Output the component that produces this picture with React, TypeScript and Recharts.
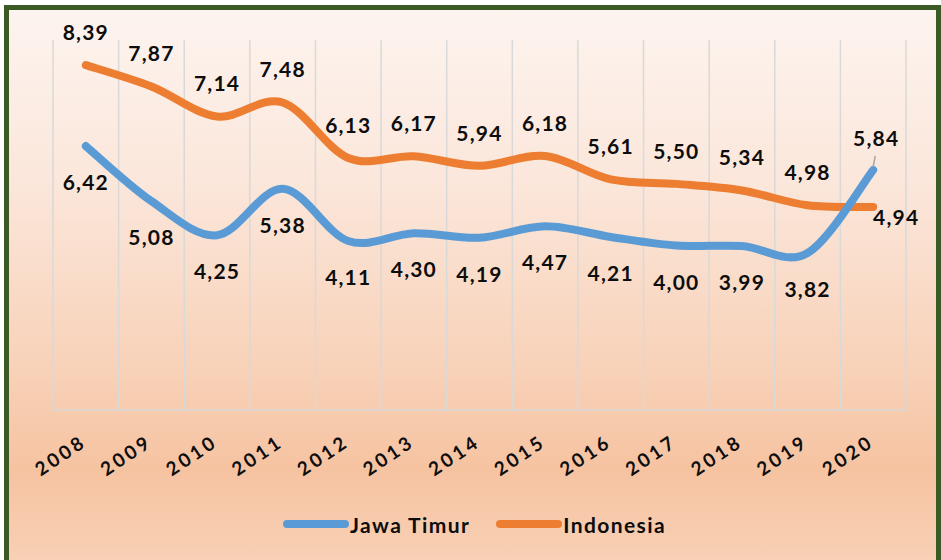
import React from 'react';
import { LineChart, Line, XAxis, YAxis, Legend, ReferenceLine, LabelList } from 'recharts';

const YEARS = ['2008', '2009', '2010', '2011', '2012', '2013', '2014', '2015', '2016', '2017', '2018', '2019', '2020'];
const JAWA_TIMUR = [6.42, 5.08, 4.25, 5.38, 4.11, 4.3, 4.19, 4.47, 4.21, 4.0, 3.99, 3.82, 5.84];
const INDONESIA = [8.39, 7.87, 7.14, 7.48, 6.13, 6.17, 5.94, 6.18, 5.61, 5.5, 5.34, 4.98, 4.94];

const BLUE = '#5B9BD5';
const ORANGE = '#ED7D31';
const FONT = "Lato, 'Open Sans', sans-serif";

const data = YEARS.map((year, i) => ({
  idx: i,
  year,
  jatim: JAWA_TIMUR[i],
  indo: INDONESIA[i],
}));

const tickIdx = YEARS.map((_, i) => i);
const boundaries = [...YEARS.map((_, i) => i - 0.5), YEARS.length - 0.5];
const lastIdx = YEARS.length - 1;

const fmt = (v: number) => v.toFixed(2).replace('.', ',');

// excel-like smoothing (catmull-rom style bezier)
const excelCurve = (context: any) => {
  let pts: number[][] = [];
  return {
    areaStart() {},
    areaEnd() {},
    lineStart() {
      pts = [];
    },
    point(x: number, y: number) {
      pts.push([+x, +y]);
    },
    lineEnd() {
      if (!pts.length) return;
      context.moveTo(pts[0][0], pts[0][1]);
      for (let i = 0; i < pts.length - 1; i++) {
        const p0 = pts[i - 1] || pts[i];
        const p1 = pts[i];
        const p2 = pts[i + 1];
        const p3 = pts[i + 2] || p2;
        context.bezierCurveTo(
          p1[0] + (p2[0] - p0[0]) / 6,
          p1[1] + (p2[1] - p0[1]) / 6,
          p2[0] - (p3[0] - p1[0]) / 6,
          p2[1] - (p3[1] - p1[1]) / 6,
          p2[0],
          p2[1]
        );
      }
    },
  };
};

const labelStyle = { fontFamily: FONT, fontWeight: 700, fontSize: 21, fill: '#0d0d0d', letterSpacing: 1.2 };

const IndoLabel = (props: any) => {
  const { x, y, value, index } = props;
  let tx = x;
  let ty = y - 25;
  if (index === lastIdx) {
    tx = x + 23;
    ty = y + 18;
  }
  return (
    <text x={tx} y={ty} textAnchor="middle" style={labelStyle}>
      {fmt(value)}
    </text>
  );
};

const JatimLabel = (props: any) => {
  const { x, y, value, index } = props;
  if (index === lastIdx) {
    return (
      <g>
        <line x1={x} y1={y - 3} x2={x + 2} y2={y - 14} stroke="#a6a6a6" strokeWidth={1.5} />
        <text x={x + 3} y={y - 24} textAnchor="middle" style={labelStyle}>
          {fmt(value)}
        </text>
      </g>
    );
  }
  return (
    <text x={x} y={y + 44} textAnchor="middle" style={labelStyle}>
      {fmt(value)}
    </text>
  );
};

const YearTick = (props: any) => {
  const { x, y, payload } = props;
  return (
    <g transform={`translate(${x + 2},${y + 35})`}>
      <text
        textAnchor="end"
        transform="rotate(-34)"
        style={{ fontFamily: FONT, fontWeight: 700, fontSize: 19, fill: '#0d0d0d', letterSpacing: 3.2 }}
      >
        {YEARS[payload.value]}
      </text>
    </g>
  );
};

const renderLegend = () => {
  const items = [
    { name: 'Jawa Timur', color: BLUE },
    { name: 'Indonesia', color: ORANGE },
  ];
  return (
    <div style={{ display: 'flex', justifyContent: 'center', gap: 26, paddingLeft: 8 }}>
      {items.map((it) => (
        <div key={it.name} style={{ display: 'flex', alignItems: 'center', height: 30 }}>
          <svg width={66} height={10} style={{ marginRight: 1 }}>
            <line x1={4} y1={5} x2={62} y2={5} stroke={it.color} strokeWidth={8} strokeLinecap="round" />
          </svg>
          <span style={{ fontFamily: FONT, fontWeight: 700, fontSize: 21, letterSpacing: 1.4, color: '#0d0d0d' }}>
            {it.name}
          </span>
        </div>
      ))}
    </div>
  );
};

export default function App() {
  return (
    <div style={{ position: 'fixed', left: 0, top: 0, width: 941, height: 560, overflow: 'hidden', background: '#fff' }}>
      <div
        style={{
          position: 'absolute',
          left: 4,
          top: 5,
          width: 937,
          height: 600,
          boxSizing: 'border-box',
          border: '5px solid #3b5a26',
          background:
            'linear-gradient(to bottom, #fdf4ef 0%, #fbe6da 30%, #f8d2b9 60%, #f6c3a1 78%, #f8cfb3 92%, #f9d8c2 100%)',
        }}
      />
      <div style={{ position: 'absolute', left: 0, top: 0 }}>
        <LineChart width={941} height={560} data={data} margin={{ top: 40, right: 35, left: 53, bottom: 90 }}>
          {boundaries.map((b) => (
            <ReferenceLine key={b} x={b} stroke="#d9d9d9" strokeWidth={1.5} />
          ))}
          <XAxis
            type="number"
            dataKey="idx"
            domain={[-0.5, YEARS.length - 0.5]}
            ticks={tickIdx}
            interval={0}
            tickLine={false}
            tickSize={0}
            tickMargin={0}
            axisLine={{ stroke: '#d9d9d9', strokeWidth: 1.5 }}
            tick={<YearTick />}
          />
          <YAxis hide domain={[0, 9]} />
          <Legend
            verticalAlign="bottom"
            height={30}
            wrapperStyle={{ bottom: 21, left: 0, width: 941 }}
            content={renderLegend}
          />
          <Line
            dataKey="indo"
            name="Indonesia"
            stroke={ORANGE}
            strokeWidth={8}
            strokeLinecap="round"
            type={excelCurve as any}
            dot={false}
            isAnimationActive={false}
          >
            <LabelList dataKey="indo" content={<IndoLabel />} />
          </Line>
          <Line
            dataKey="jatim"
            name="Jawa Timur"
            stroke={BLUE}
            strokeWidth={8}
            strokeLinecap="round"
            type={excelCurve as any}
            dot={false}
            isAnimationActive={false}
          >
            <LabelList dataKey="jatim" content={<JatimLabel />} />
          </Line>
        </LineChart>
      </div>
    </div>
  );
}
